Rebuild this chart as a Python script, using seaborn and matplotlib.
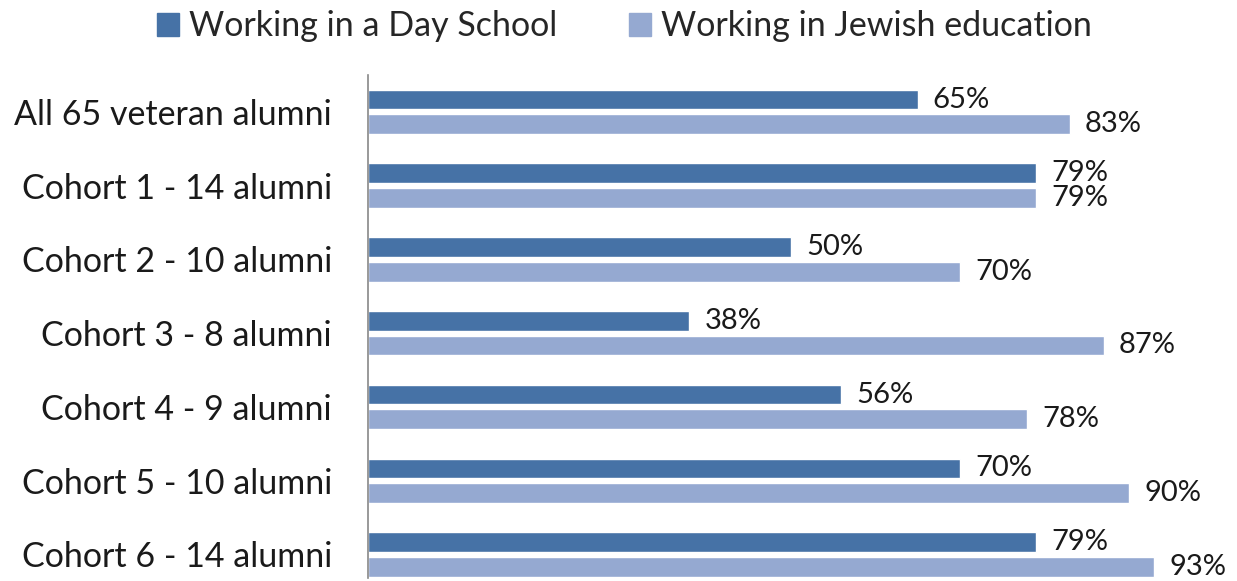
import pandas as pd
import matplotlib.pyplot as plt
import seaborn as sns

# Chart data
groups = ["All 65 veteran alumni", "Cohort 1 - 14 alumni", "Cohort 2 - 10 alumni",
          "Cohort 3 - 8 alumni", "Cohort 4 - 9 alumni", "Cohort 5 - 10 alumni",
          "Cohort 6 - 14 alumni"]
day_school = [65, 79, 50, 38, 56, 70, 79]
jewish_ed = [83, 79, 70, 87, 78, 90, 93]
series = ["Working in a Day School", "Working in Jewish education"]
colors = ["#4672A6", "#95A9D1"]

df = pd.DataFrame({
    "group": groups * 2,
    "value": day_school + jewish_ed,
    "series": [series[0]] * len(groups) + [series[1]] * len(groups),
})

sns.set_style("white")
plt.rcParams['font.family'] = ['Lato', 'DejaVu Sans']

fig = plt.figure(figsize=(12.37, 5.81), dpi=100)
ax = fig.add_axes([0.2975, 0.005, 0.6835, 0.866])

sns.barplot(data=df, y="group", x="value", hue="series", orient="h",
            palette=colors, saturation=1, width=0.667, gap=0.2, ax=ax, legend=False)

for cont in ax.containers:
    ax.bar_label(cont, fmt="%d%%", padding=11, fontsize=21, color="#1a1a1a")

ax.set_xlim(0, 100)
ax.set_ylim(6.32, -0.5)
ax.set_xlabel("")
ax.set_ylabel("")
ax.set_xticks([])
ax.tick_params(axis="y", length=0, pad=26, labelsize=24.5, labelcolor="#1a1a1a")
for s in ["top", "right", "bottom"]:
    ax.spines[s].set_visible(False)
ax.spines["left"].set_color("#888888")
ax.spines["left"].set_linewidth(1.2)

handles = [plt.Rectangle((0, 0), 1, 1, color=c) for c in colors]
fig.legend(handles, series, loc="center", bbox_to_anchor=(0.505, 0.955),
           ncol=2, frameon=False, fontsize=24.5, handlelength=0.65, handleheight=0.65,
           handletextpad=0.3, columnspacing=2.1, borderpad=0)

fig.savefig("out.png", dpi=100)
